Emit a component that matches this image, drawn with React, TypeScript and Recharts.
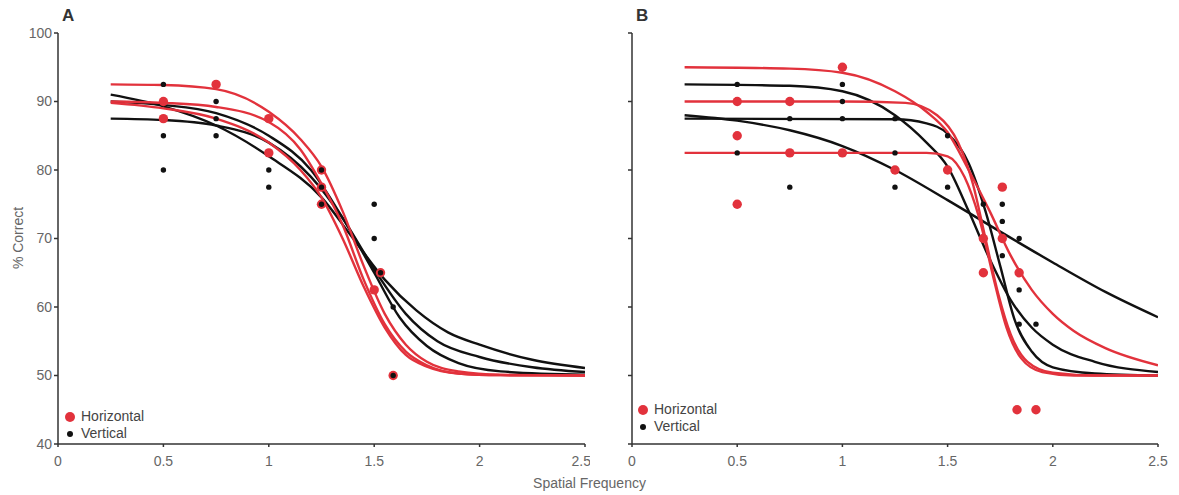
import React from 'react';
import { ComposedChart, Line, Scatter, XAxis, YAxis } from 'recharts';

type Pt = { x: number; y: number };

const X_TICKS = [0, 0.5, 1, 1.5, 2, 2.5];
const Y_TICKS = [40, 50, 60, 70, 80, 90, 100];

const RED = '#e2323c';
const BLACK = '#111111';

// Panel A observations
const horizontalA: Pt[] = [
    { x: 0.5, y: 90 }, { x: 0.5, y: 87.5 }, { x: 0.75, y: 92.5 },
    { x: 1, y: 87.5 }, { x: 1, y: 82.5 },
    { x: 1.25, y: 80 }, { x: 1.25, y: 77.5 }, { x: 1.25, y: 75 },
    { x: 1.5, y: 62.5 }, { x: 1.53, y: 65 }, { x: 1.59, y: 50 },
];
const verticalA: Pt[] = [
    { x: 0.5, y: 92.5 }, { x: 0.5, y: 85 }, { x: 0.5, y: 80 },
    { x: 0.75, y: 90 }, { x: 0.75, y: 87.5 }, { x: 0.75, y: 85 },
    { x: 1, y: 80 }, { x: 1, y: 77.5 },
    { x: 1.25, y: 80 }, { x: 1.25, y: 77.5 }, { x: 1.25, y: 75 },
    { x: 1.5, y: 75 }, { x: 1.5, y: 70 }, { x: 1.53, y: 65 },
    { x: 1.59, y: 60 }, { x: 1.59, y: 50 },
];

// Panel A fitted curves
const redFitsA: Pt[][] = [
    [{ x: 0.25, y: 92.5 }, { x: 0.5, y: 92.4 }, { x: 0.75, y: 91.8 }, { x: 1, y: 88.5 }, { x: 1.15, y: 84.5 }, { x: 1.25, y: 80.5 }, { x: 1.35, y: 74 }, { x: 1.45, y: 66 }, { x: 1.55, y: 59 }, { x: 1.65, y: 54.5 }, { x: 1.75, y: 52 }, { x: 1.9, y: 50.6 }, { x: 2.1, y: 50.1 }, { x: 2.5, y: 50 }],
    [{ x: 0.25, y: 90 }, { x: 0.5, y: 89.8 }, { x: 0.75, y: 89.2 }, { x: 1, y: 87 }, { x: 1.15, y: 83 }, { x: 1.25, y: 78 }, { x: 1.35, y: 72 }, { x: 1.45, y: 64 }, { x: 1.55, y: 57.5 }, { x: 1.65, y: 53.5 }, { x: 1.75, y: 51.5 }, { x: 1.9, y: 50.3 }, { x: 2.1, y: 50.05 }, { x: 2.5, y: 50 }],
    [{ x: 0.25, y: 89.8 }, { x: 0.5, y: 89 }, { x: 0.75, y: 87.5 }, { x: 1, y: 84 }, { x: 1.15, y: 80 }, { x: 1.25, y: 76 }, { x: 1.35, y: 70 }, { x: 1.45, y: 63 }, { x: 1.55, y: 57 }, { x: 1.65, y: 53 }, { x: 1.75, y: 51.3 }, { x: 1.9, y: 50.3 }, { x: 2.1, y: 50.05 }, { x: 2.5, y: 50 }],
];
const blackFitsA: Pt[][] = [
    [{ x: 0.25, y: 91 }, { x: 0.5, y: 89.3 }, { x: 0.75, y: 86.5 }, { x: 1, y: 82 }, { x: 1.25, y: 76 }, { x: 1.4, y: 70 }, { x: 1.55, y: 64 }, { x: 1.7, y: 59.5 }, { x: 1.85, y: 56.3 }, { x: 2, y: 54.5 }, { x: 2.25, y: 52.3 }, { x: 2.5, y: 51.1 }],
    [{ x: 0.25, y: 87.5 }, { x: 0.5, y: 87.3 }, { x: 0.75, y: 86.5 }, { x: 1, y: 84 }, { x: 1.2, y: 79 }, { x: 1.35, y: 73 }, { x: 1.5, y: 65.5 }, { x: 1.65, y: 59 }, { x: 1.8, y: 55 }, { x: 2, y: 52.7 }, { x: 2.25, y: 51.2 }, { x: 2.5, y: 50.5 }],
    [{ x: 0.25, y: 90 }, { x: 0.5, y: 89.5 }, { x: 0.75, y: 88.3 }, { x: 1, y: 85 }, { x: 1.2, y: 80 }, { x: 1.35, y: 73 }, { x: 1.5, y: 65 }, { x: 1.62, y: 58.5 }, { x: 1.75, y: 54.3 }, { x: 1.9, y: 51.8 }, { x: 2.1, y: 50.6 }, { x: 2.5, y: 50.1 }],
];

// Panel B observations
const horizontalB: Pt[] = [
    { x: 0.5, y: 90 }, { x: 0.5, y: 85 }, { x: 0.5, y: 75 },
    { x: 0.75, y: 90 }, { x: 0.75, y: 82.5 },
    { x: 1, y: 95 }, { x: 1, y: 82.5 },
    { x: 1.25, y: 80 }, { x: 1.5, y: 80 },
    { x: 1.67, y: 70 }, { x: 1.67, y: 65 },
    { x: 1.76, y: 77.5 }, { x: 1.76, y: 70 },
    { x: 1.84, y: 65 }, { x: 1.83, y: 45 }, { x: 1.92, y: 45 },
];
const verticalB: Pt[] = [
    { x: 0.5, y: 92.5 }, { x: 0.5, y: 82.5 },
    { x: 0.75, y: 87.5 }, { x: 0.75, y: 77.5 },
    { x: 1, y: 92.5 }, { x: 1, y: 90 }, { x: 1, y: 87.5 },
    { x: 1.25, y: 87.5 }, { x: 1.25, y: 82.5 }, { x: 1.25, y: 77.5 },
    { x: 1.5, y: 85 }, { x: 1.5, y: 77.5 },
    { x: 1.67, y: 75 }, { x: 1.76, y: 75 }, { x: 1.76, y: 72.5 }, { x: 1.76, y: 67.5 },
    { x: 1.84, y: 70 }, { x: 1.84, y: 62.5 }, { x: 1.84, y: 57.5 }, { x: 1.92, y: 57.5 },
];

// Panel B fitted curves
const redFitsB: Pt[][] = [
    [{ x: 0.25, y: 95 }, { x: 0.75, y: 94.8 }, { x: 1, y: 94.2 }, { x: 1.25, y: 91.5 }, { x: 1.4, y: 88.5 }, { x: 1.5, y: 85.5 }, { x: 1.6, y: 80 }, { x: 1.7, y: 74 }, { x: 1.8, y: 67.5 }, { x: 1.9, y: 62.5 }, { x: 2, y: 59 }, { x: 2.1, y: 56.5 }, { x: 2.25, y: 54 }, { x: 2.5, y: 51.5 }],
    [{ x: 0.25, y: 90 }, { x: 1, y: 90 }, { x: 1.3, y: 89.8 }, { x: 1.45, y: 88 }, { x: 1.55, y: 84 }, { x: 1.62, y: 78 }, { x: 1.68, y: 70 }, { x: 1.74, y: 62 }, { x: 1.8, y: 56 }, { x: 1.88, y: 52 }, { x: 2, y: 50.4 }, { x: 2.2, y: 50 }, { x: 2.5, y: 50 }],
    [{ x: 0.25, y: 82.5 }, { x: 1, y: 82.5 }, { x: 1.4, y: 82.5 }, { x: 1.5, y: 82 }, { x: 1.58, y: 79 }, { x: 1.65, y: 73 }, { x: 1.72, y: 64 }, { x: 1.78, y: 57 }, { x: 1.85, y: 52.5 }, { x: 1.95, y: 50.5 }, { x: 2.1, y: 50 }, { x: 2.5, y: 50 }],
];
const blackFitsB: Pt[][] = [
    [{ x: 0.25, y: 92.5 }, { x: 0.75, y: 92.3 }, { x: 1, y: 91.5 }, { x: 1.25, y: 88 }, { x: 1.4, y: 84 }, { x: 1.5, y: 80.5 }, { x: 1.6, y: 74 }, { x: 1.7, y: 67 }, { x: 1.8, y: 61 }, { x: 1.9, y: 57 }, { x: 2, y: 54.5 }, { x: 2.2, y: 52 }, { x: 2.5, y: 50.5 }],
    [{ x: 0.25, y: 87.5 }, { x: 1.25, y: 87.4 }, { x: 1.4, y: 86.8 }, { x: 1.5, y: 85.3 }, { x: 1.6, y: 81 }, { x: 1.68, y: 74 }, { x: 1.75, y: 66 }, { x: 1.82, y: 58 }, { x: 1.9, y: 53.5 }, { x: 2, y: 51.2 }, { x: 2.2, y: 50.3 }, { x: 2.5, y: 50 }],
    [{ x: 0.25, y: 88 }, { x: 0.5, y: 87.2 }, { x: 0.75, y: 85.8 }, { x: 1, y: 83.5 }, { x: 1.25, y: 80 }, { x: 1.5, y: 75.6 }, { x: 1.75, y: 71 }, { x: 2, y: 66.5 }, { x: 2.25, y: 62.2 }, { x: 2.5, y: 58.5 }],
];

const FONT = 'Liberation Sans, Arial, sans-serif';
const TICK_STYLE = { fill: '#666', fontSize: 14, fontFamily: FONT };

const dot = (r: number, fill: string) => (props: any) =>
    <circle cx={props.cx} cy={props.cy} r={r} fill={fill} />;

function Panel({ showYLabels, reds, blacks, horiz, vert, rightPad }: {
    showYLabels: boolean; reds: Pt[][]; blacks: Pt[][]; horiz: Pt[]; vert: Pt[]; rightPad: number;
}) {
    return (
        <ComposedChart width={590} height={495} margin={{ top: 33, right: rightPad, bottom: 21, left: showYLabels ? 18 : 2 }}>
            <XAxis
                type="number"
                dataKey="x"
                domain={[0, 2.5]}
                ticks={X_TICKS}
                tickFormatter={(v: number) => String(v)}
                height={30}
                tickSize={3}
                tickMargin={9}
                stroke="#333"
                strokeWidth={1.5}
                tick={TICK_STYLE}
                allowDataOverflow
            />
            <YAxis
                type="number"
                domain={[40, 100]}
                ticks={Y_TICKS}
                width={40}
                tickSize={4}
                stroke="#333"
                strokeWidth={1.5}
                tickFormatter={(v: number) => (showYLabels ? String(v) : '')}
                tick={TICK_STYLE}
                allowDataOverflow
            />
            {blacks.map((d, i) => (
                <Line key={`k${i}`} data={d} dataKey="y" type="monotone" stroke={BLACK} strokeWidth={2.4} dot={false} isAnimationActive={false} />
            ))}
            {reds.map((d, i) => (
                <Line key={`r${i}`} data={d} dataKey="y" type="monotone" stroke={RED} strokeWidth={2.4} dot={false} isAnimationActive={false} />
            ))}
            <Scatter data={horiz} dataKey="y" shape={dot(4.7, RED)} isAnimationActive={false} />
            <Scatter data={vert} dataKey="y" shape={dot(2.7, BLACK)} isAnimationActive={false} />
        </ComposedChart>
    );
}

function LegendBox({ left, top }: { left: number; top: number }) {
    return (
        <div style={{ position: 'absolute', left, top, fontFamily: FONT, fontSize: 14, color: '#444', lineHeight: '17px' }}>
            <div style={{ display: 'flex', alignItems: 'center' }}>
                <span style={{ width: 10, height: 10, borderRadius: 5, background: RED, display: 'inline-block', marginRight: 6 }} />
                Horizontal
            </div>
            <div style={{ display: 'flex', alignItems: 'center' }}>
                <span style={{ width: 6, height: 6, borderRadius: 3, background: BLACK, display: 'inline-block', marginLeft: 2, marginRight: 8 }} />
                Vertical
            </div>
        </div>
    );
}

export default function App() {
    return (
        <div style={{ position: 'absolute', left: 0, top: 0, width: 1179, height: 495, background: '#fff', fontFamily: FONT }}>
            <div style={{ position: 'absolute', left: 0, top: 0 }}>
                <Panel showYLabels rightPad={5} reds={redFitsA} blacks={blackFitsA} horiz={horizontalA} vert={verticalA} />
            </div>
            <div style={{ position: 'absolute', left: 590, top: 0 }}>
                <Panel showYLabels={false} rightPad={22} reds={redFitsB} blacks={blackFitsB} horiz={horizontalB} vert={verticalB} />
            </div>
            <div style={{ position: 'absolute', left: 62, top: 6, fontSize: 17, fontWeight: 'bold', color: '#333' }}>A</div>
            <div style={{ position: 'absolute', left: 636, top: 6, fontSize: 17, fontWeight: 'bold', color: '#333' }}>B</div>
            <div style={{ position: 'absolute', left: 18, top: 238, transform: 'translate(-50%, -50%) rotate(-90deg)', fontSize: 14, color: '#666', whiteSpace: 'nowrap' }}>% Correct</div>
            <div style={{ position: 'absolute', left: 0, width: 1179, top: 475, textAlign: 'center', fontSize: 14, color: '#666' }}>Spatial Frequency</div>
            <LegendBox left={65} top={408} />
            <LegendBox left={638} top={401} />
        </div>
    );
}
